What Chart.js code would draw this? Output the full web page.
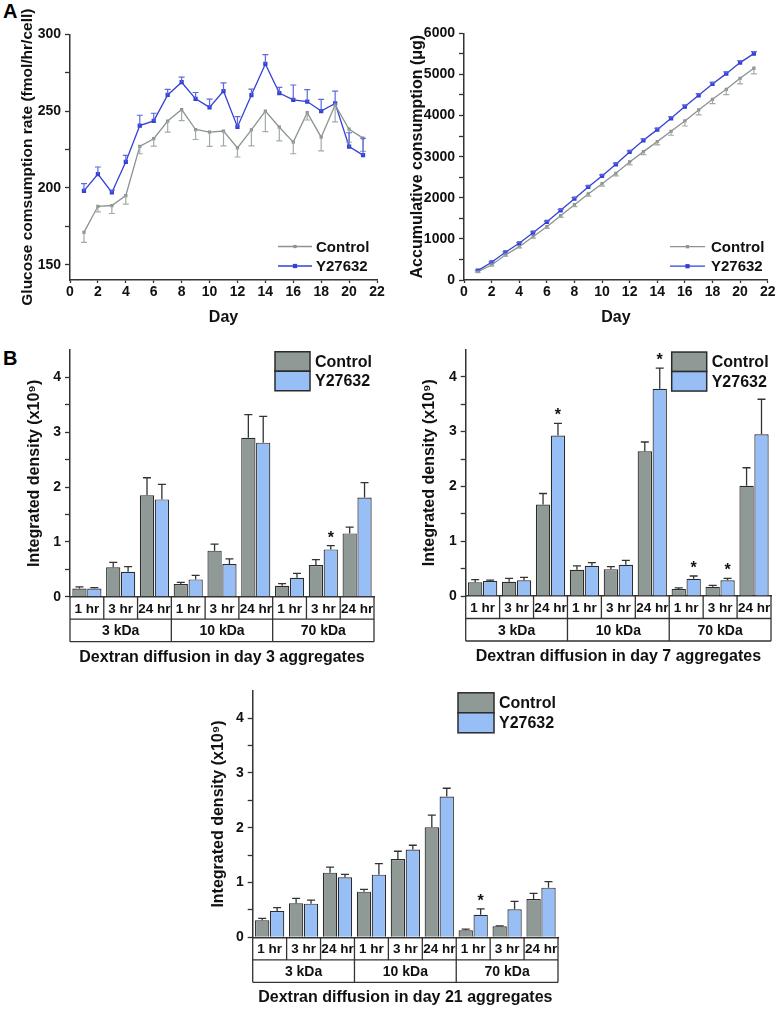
<!DOCTYPE html>
<html>
<head>
<meta charset="utf-8">
<script src="https://cdn.jsdelivr.net/npm/chart.js@4.4.1/dist/chart.umd.min.js"></script>
<style>
body { margin: 0; background: #fff; width: 780px; height: 1009px; position: relative; overflow: hidden; font-family: "Liberation Sans", Arial, sans-serif; }
canvas { position: absolute; }
.lbl { position: absolute; font-weight: bold; font-size: 20px; line-height: 20px; color: #000; }
</style>
</head>
<body>
<div class="lbl" style="left:3px;top:1px">A</div>
<div class="lbl" style="left:3px;top:348px">B</div>
<canvas id="rate" width="390" height="330" style="left:0;top:0"></canvas>
<canvas id="cum" width="390" height="330" style="left:390px;top:0"></canvas>
<canvas id="day3" width="390" height="350" style="left:0;top:320px"></canvas>
<canvas id="day7" width="390" height="350" style="left:390px;top:320px"></canvas>
<canvas id="day21" width="390" height="359" style="left:200px;top:650px"></canvas>
<script>
// --- data ---
var days = [1, 2, 3, 4, 5, 6, 7, 8, 9, 10, 11, 12, 13, 14, 15, 16, 17, 18, 19, 20, 21];

// glucose consumption rate (fmol/hr/cell)
var ctrlRate    = [171, 188, 188.5, 195, 227, 232, 243.5, 251, 238, 236.3, 237, 226, 237.8, 250, 239.5, 229.8, 249, 233, 254, 238.2, 232.4];
var ctrlRateErr = [6.5, 3.7, 5.2, 5.6, 4.8, 4.8, 7.2, 7.2, 6.5, 9.3, 9.7, 5.9, 10.4, 13.4, 8.9, 7.6, 4.8, 8.9, 11, 8.5, 8.7];
var y27Rate     = [198, 209, 197, 217, 240.6, 243.6, 260.5, 268.8, 258, 252.4, 263, 239.7, 260.4, 280.7, 261.7, 257.3, 256.2, 250, 255, 226.9, 221.3];
var y27RateErr  = [4.8, 4.6, 1.5, 4.1, 6.7, 5, 3.7, 3.3, 4.1, 5.4, 5.4, 6.7, 3.9, 6.1, 3.7, 9.7, 7.8, 7.6, 8, 9, 11];

// accumulative consumption (ug)
var ctrlCum    = [203, 365, 608, 811, 1054, 1297, 1565, 1833, 2092, 2343, 2595, 2870, 3122, 3365, 3617, 3868, 4136, 4395, 4638, 4906, 5150];
var ctrlCumErr = [15, 20, 26, 30, 34, 40, 44, 50, 52, 58, 62, 70, 72, 81, 97, 122, 122, 105, 130, 138, 138];
var y27Cum     = [227, 430, 673, 892, 1151, 1411, 1695, 1979, 2262, 2530, 2814, 3114, 3398, 3657, 3933, 4217, 4492, 4768, 5019, 5287, 5506];
var y27CumErr  = [10, 12, 14, 15, 18, 20, 22, 24, 26, 28, 30, 30, 32, 34, 36, 38, 40, 40, 42, 45, 48];

var rateTicks = [150, 175, 200, 225, 250, 275, 300];
var cumTicks = [0, 500, 1000, 1500, 2000, 2500, 3000, 3500, 4000, 4500, 5000, 5500, 6000];
var dayTicks = [0, 2, 4, 6, 8, 10, 12, 14, 16, 18, 20, 22];
var densTicks = [0, 0.5, 1, 1.5, 2, 2.5, 3, 3.5, 4];

// dextran diffusion, integrated density (x10^9)
var timeLabels = ['1 hr', '3 hr', '24 hr'];
var sizeLabels = ['3 kDa', '10 kDa', '70 kDa'];

var d3Ctrl    = [0.15, 0.535, 1.85, 0.23, 0.84, 2.9, 0.2, 0.578, 1.155];
var d3CtrlErr = [0.03, 0.09, 0.32, 0.03, 0.12, 0.42, 0.037, 0.097, 0.115];
var d3Y27     = [0.15, 0.456, 1.775, 0.316, 0.596, 2.81, 0.347, 0.863, 1.81];
var d3Y27Err  = [0.015, 0.091, 0.275, 0.074, 0.094, 0.48, 0.078, 0.067, 0.27];
var d3Sig     = [0, 0, 0, 0, 0, 0, 0, 1, 0];

var d7Ctrl    = [0.25, 0.26, 1.67, 0.48, 0.49, 2.64, 0.128, 0.17, 2.01];
var d7CtrlErr = [0.05, 0.06, 0.2, 0.07, 0.045, 0.17, 0.022, 0.025, 0.33];
var d7Y27     = [0.274, 0.286, 2.93, 0.553, 0.57, 3.78, 0.316, 0.286, 2.95];
var d7Y27Err  = [0.016, 0.054, 0.22, 0.057, 0.08, 0.38, 0.049, 0.034, 0.64];
var d7Sig     = [0, 0, 1, 0, 0, 1, 1, 1, 0];

var d21Ctrl    = [0.31, 0.62, 1.18, 0.833, 1.43, 2.006, 0.128, 0.2, 0.7];
var d21CtrlErr = [0.037, 0.09, 0.1, 0.042, 0.14, 0.224, 0.022, 0.01, 0.1];
var d21Y27     = [0.48, 0.614, 1.094, 1.143, 1.6, 2.57, 0.41, 0.51, 0.906];
var d21Y27Err  = [0.06, 0.066, 0.056, 0.2, 0.08, 0.15, 0.11, 0.147, 0.11];
var d21Sig     = [0, 0, 0, 0, 0, 0, 1, 0, 0];

// --- look ---
var FONT = '"Liberation Sans", Arial, sans-serif';
var ink = '#111';
var axisColor = '#333';
var grayLine = '#8b9491', blueLine = '#3341d4';
var grayErr = '#a3aba8', blueErr = '#5c68e0';
var grayBar = '#8f9995', blueBar = '#97bff6';

Chart.defaults.font.family = FONT;
Chart.defaults.font.weight = 'bold';
Chart.defaults.color = ink;
Chart.defaults.animation = false;

// error bars (one-sided), drawn through the y scale
var errorBars = {
  id: 'errorBars',
  afterDatasetsDraw: function (chart, args, o) {
    var ctx = chart.ctx, ys = chart.scales.y;
    chart.data.datasets.forEach(function (ds, di) {
      if (!ds.err) return;
      var meta = chart.getDatasetMeta(di);
      ctx.save();
      ctx.strokeStyle = ds.errColor;
      ctx.lineWidth = o.width;
      meta.data.forEach(function (el, i) {
        var raw = ds.data[i];
        var v = typeof raw === 'object' ? raw.y : raw;
        var y0 = ys.getPixelForValue(v);
        var y1 = ys.getPixelForValue(v + ds.errDir * ds.err[i]);
        ctx.beginPath();
        ctx.moveTo(el.x, y0);
        ctx.lineTo(el.x, y1);
        ctx.moveTo(el.x - o.cap, y1);
        ctx.lineTo(el.x + o.cap, y1);
        ctx.stroke();
      });
      ctx.restore();
    });
  }
};

// significance stars above the error bar
var stars = {
  id: 'stars',
  afterDatasetsDraw: function (chart) {
    var ctx = chart.ctx, ys = chart.scales.y;
    chart.data.datasets.forEach(function (ds, di) {
      if (!ds.sig) return;
      var meta = chart.getDatasetMeta(di);
      ctx.save();
      ctx.font = 'bold 16px ' + FONT;
      ctx.fillStyle = ink;
      ctx.textAlign = 'center';
      ctx.textBaseline = 'alphabetic';
      meta.data.forEach(function (el, i) {
        if (!ds.sig[i]) return;
        var yTop = ys.getPixelForValue(ds.data[i] + ds.err[i]);
        ctx.fillText('*', el.x, yTop - 3);
      });
      ctx.restore();
    });
  }
};

// legend placed inside the plot
var legendDraw = {
  id: 'legendDraw',
  afterDraw: function (chart, args, o) {
    var ctx = chart.ctx;
    ctx.save();
    ctx.font = 'bold ' + o.size + 'px ' + FONT;
    ctx.textBaseline = 'middle';
    chart.data.datasets.forEach(function (ds, i) {
      var cy = o.y + i * o.rowH;
      if (o.kind === 'line') {
        ctx.strokeStyle = ds.borderColor;
        ctx.lineWidth = 1.3;
        ctx.beginPath();
        ctx.moveTo(o.x, cy);
        ctx.lineTo(o.x + o.w, cy);
        ctx.stroke();
        ctx.fillStyle = ds.borderColor;
        var s = ds.pointRadius * Math.SQRT1_2;
        ctx.fillRect(o.x + o.w / 2 - s, cy - s, 2 * s, 2 * s);
      } else {
        ctx.fillStyle = ds.backgroundColor;
        ctx.fillRect(o.x, cy - o.h / 2, o.w, o.h);
        ctx.strokeStyle = '#2b2b2b';
        ctx.lineWidth = 1.5;
        ctx.strokeRect(o.x, cy - o.h / 2, o.w, o.h);
      }
      ctx.fillStyle = ink;
      ctx.fillText(ds.label, o.x + o.w + o.gap, cy + 1);
    });
    ctx.restore();
  }
};

// two-row category table under the bar charts
var xTable = {
  id: 'xTable',
  afterDraw: function (chart, args, o) {
    var ctx = chart.ctx, xs = chart.scales.x, a = chart.chartArea;
    var n = chart.data.labels.length, per = timeLabels.length;
    var w = (a.right - a.left) / n;
    var y0 = a.bottom, y1 = y0 + o.rowH, y2 = y1 + o.rowH;
    ctx.save();
    ctx.strokeStyle = axisColor;
    ctx.lineWidth = 1.3;
    ctx.beginPath();
    ctx.moveTo(a.left, y1); ctx.lineTo(a.right, y1);
    ctx.moveTo(a.left, y2); ctx.lineTo(a.right, y2);
    for (var k = 0; k <= n; k++) {
      var x = a.left + k * w;
      ctx.moveTo(x, y0);
      ctx.lineTo(x, k % per === 0 ? y2 : y1);
    }
    ctx.stroke();
    ctx.fillStyle = ink;
    ctx.textAlign = 'center';
    ctx.textBaseline = 'middle';
    ctx.font = 'bold 13.5px ' + FONT;
    for (var i = 0; i < n; i++) {
      ctx.fillText(timeLabels[i % per], xs.getPixelForValue(i), (y0 + y1) / 2 + 1);
    }
    ctx.font = 'bold 14px ' + FONT;
    sizeLabels.forEach(function (s, g) {
      ctx.fillText(s, a.left + (g * per + per / 2) * w, (y1 + y2) / 2 + 1);
    });
    ctx.restore();
  }
};

function yAxis(geo, min, max, ticks, labelEvery, title, titleSize) {
  var lh = titleSize * 1.2;
  return {
    type: 'linear', min: min, max: max,
    afterBuildTicks: function (s) { s.ticks = ticks.map(function (v) { return { value: v }; }); },
    afterFit: function (s) { s.width = geo.left; },
    ticks: {
      font: { size: 14 }, padding: 4, autoSkip: false,
      callback: function (v) { return Math.abs(v / labelEvery - Math.round(v / labelEvery)) < 1e-6 ? v : ''; }
    },
    grid: { drawOnChartArea: false, color: axisColor, tickLength: 5, tickWidth: 1.3 },
    border: { color: axisColor, width: 1.5 },
    title: { display: true, text: title, font: { size: titleSize }, padding: { top: geo.yTitleX - lh / 2, bottom: 0 } }
  };
}

function layoutOf(geo) {
  return { padding: { left: 0, top: geo.top, right: geo.W - geo.right, bottom: 0 } };
}

function lineChart(id, geo, ctrl, ctrlErr, y27, y27Err, yMin, yMax, ticks, labelEvery, yTitle, titleSize, leg) {
  new Chart(document.getElementById(id), {
    type: 'line',
    data: {
      datasets: [{
        label: 'Control',
        data: days.map(function (d, i) { return { x: d, y: ctrl[i] }; }),
        err: ctrlErr, errDir: -1, errColor: grayErr,
        borderColor: grayLine, backgroundColor: grayLine, borderWidth: 1.3,
        pointStyle: 'rect', pointRadius: 2.3, pointBorderWidth: 0
      }, {
        label: 'Y27632',
        data: days.map(function (d, i) { return { x: d, y: y27[i] }; }),
        err: y27Err, errDir: 1, errColor: blueErr,
        borderColor: blueLine, backgroundColor: blueLine, borderWidth: 1.3,
        pointStyle: 'rect', pointRadius: 3, pointBorderWidth: 0
      }]
    },
    options: {
      responsive: false, events: [],
      layout: layoutOf(geo),
      scales: {
        x: {
          type: 'linear', min: 0, max: 22,
          afterBuildTicks: function (s) { s.ticks = dayTicks.map(function (v) { return { value: v }; }); },
          afterFit: function (s) { s.height = geo.H - geo.bottom; },
          ticks: { font: { size: 14 }, padding: 1, maxRotation: 0, autoSkip: false },
          grid: { drawOnChartArea: false, color: axisColor, tickLength: 3, tickWidth: 1.3 },
          border: { color: axisColor, width: 1.5 },
          title: { display: true, text: 'Day', font: { size: 16 }, padding: { top: 0, bottom: geo.H - geo.xTitleY - 9.6 } }
        },
        y: yAxis(geo, yMin, yMax, ticks, labelEvery, yTitle, titleSize)
      },
      plugins: {
        legend: { display: false }, tooltip: { enabled: false },
        errorBars: { width: 1.2, cap: 3 },
        legendDraw: leg
      }
    },
    plugins: [errorBars, legendDraw]
  });
}

function barChart(id, geo, ctrl, ctrlErr, y27, y27Err, sig, title, leg) {
  var cats = [];
  sizeLabels.forEach(function (s) { timeLabels.forEach(function (t) { cats.push(s + ' ' + t); }); });
  new Chart(document.getElementById(id), {
    type: 'bar',
    data: {
      labels: cats,
      datasets: [{
        label: 'Control', data: ctrl, err: ctrlErr, errDir: 1, errColor: '#333',
        backgroundColor: grayBar, borderColor: '#2b2b2b', borderWidth: 1.2,
        categoryPercentage: 0.88, barPercentage: 0.96
      }, {
        label: 'Y27632', data: y27, err: y27Err, errDir: 1, errColor: '#333', sig: sig,
        backgroundColor: blueBar, borderColor: '#2b2b2b', borderWidth: 1.2,
        categoryPercentage: 0.88, barPercentage: 0.96
      }]
    },
    options: {
      responsive: false, events: [],
      layout: layoutOf(geo),
      scales: {
        x: {
          type: 'category', offset: true,
          afterFit: function (s) { s.height = geo.H - geo.bottom; },
          ticks: { display: false },
          grid: { display: false },
          border: { display: true, color: axisColor, width: 1.5 },
          title: { display: true, text: title, font: { size: 16 }, padding: { top: 0, bottom: geo.H - geo.xTitleY - 9.6 } }
        },
        y: yAxis(geo, 0, 4.5, densTicks, 1, 'Integrated density (x10\u2079)', 16)
      },
      plugins: {
        legend: { display: false }, tooltip: { enabled: false },
        errorBars: { width: 1.3, cap: 4 },
        legendDraw: leg,
        xTable: { rowH: 22.5 }
      }
    },
    plugins: [errorBars, stars, legendDraw, xTable]
  });
}

// --- panel placement (canvas-relative pixels) ---
var geoRate = { W: 390, H: 330, left: 70, top: 34.3, right: 377, bottom: 280, xTitleY: 318, yTitleX: 28 };
var geoCum  = { W: 390, H: 330, left: 74, top: 33.3, right: 377.7, bottom: 280, xTitleY: 318, yTitleX: 28 };
var geoD3   = { W: 390, H: 350, left: 70, top: 30, right: 374, bottom: 276.7, xTitleY: 338, yTitleX: 35 };
var geoD7   = { W: 390, H: 350, left: 75.7, top: 29.4, right: 381, bottom: 276, xTitleY: 336.7, yTitleX: 40 };
var geoD21  = { W: 390, H: 359, left: 52.7, top: 40.7, right: 358, bottom: 287.3, xTitleY: 348, yTitleX: 19 };

lineChart('rate', geoRate, ctrlRate, ctrlRateErr, y27Rate, y27RateErr, 140, 300, rateTicks, 50,
  'Glucose comsumption rate (fmol/hr/cell)', 15.5,
  { kind: 'line', x: 278, y: 246.5, w: 34, rowH: 19.5, gap: 4, size: 15 });
lineChart('cum', geoCum, ctrlCum, ctrlCumErr, y27Cum, y27CumErr, 0, 6000, cumTicks, 1000,
  'Accumulative consumption (\u03bcg)', 16,
  { kind: 'line', x: 280, y: 246.7, w: 35, rowH: 19.5, gap: 6, size: 15 });

barChart('day3', geoD3, d3Ctrl, d3CtrlErr, d3Y27, d3Y27Err, d3Sig, 'Dextran diffusion in day 3 aggregates',
  { kind: 'box', x: 275, y: 41.5, w: 35, h: 19.5, rowH: 19.5, gap: 5, size: 16 });
barChart('day7', geoD7, d7Ctrl, d7CtrlErr, d7Y27, d7Y27Err, d7Sig, 'Dextran diffusion in day 7 aggregates',
  { kind: 'box', x: 281.7, y: 41.8, w: 35, h: 19.5, rowH: 19.5, gap: 5, size: 16 });
barChart('day21', geoD21, d21Ctrl, d21CtrlErr, d21Y27, d21Y27Err, d21Sig, 'Dextran diffusion in day 21 aggregates',
  { kind: 'box', x: 258, y: 52.8, w: 36, h: 20, rowH: 20, gap: 5, size: 16 });
</script>
</body>
</html>
